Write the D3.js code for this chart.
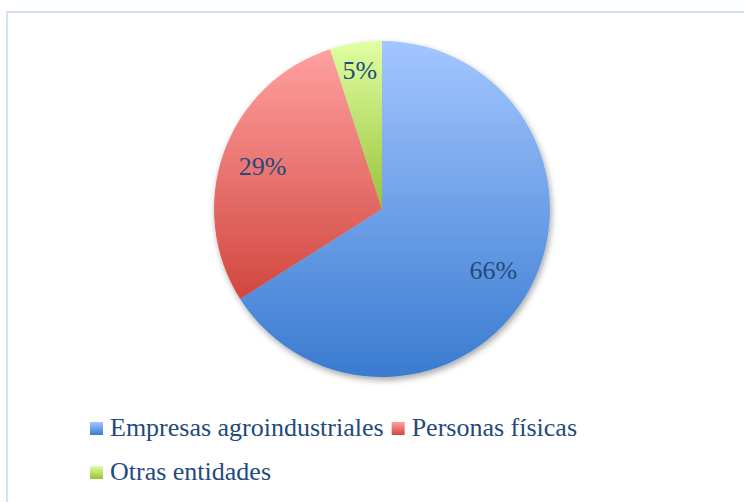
<!DOCTYPE html>
<html>
<head>
<meta charset="utf-8">
<script src="https://cdn.jsdelivr.net/npm/d3@7"></script>
<style>
  body { margin: 0; background: #fff; }
  svg { display: block; }
</style>
</head>
<body>
<div id="chart"></div>
<script>
// data
const categories = ["Empresas agroindustriales", "Personas físicas", "Otras entidades"];
const shares = [66, 29, 5];
const topColors = ["#a3c6ff", "#ffa0a0", "#e0ffa2"];
const bottomColors = ["#3a7bd0", "#d1473f", "#98c23a"];

const width = 744, height = 502;
const cx = 382, cy = 209, radius = 168;
const textColor = "#234a7c";
const fontFamily = "'Liberation Serif', serif";

const svg = d3.select("#chart").append("svg")
    .attr("width", width)
    .attr("height", height)
    .attr("font-family", fontFamily);

const defs = svg.append("defs");

// one vertical gradient per slice
categories.forEach((c, i) => {
    const g = defs.append("linearGradient")
        .attr("id", `grad-${i}`)
        .attr("x1", 0).attr("y1", 0)
        .attr("x2", 0).attr("y2", 1);
    g.append("stop").attr("offset", "0%").attr("stop-color", topColors[i]);
    g.append("stop").attr("offset", "100%").attr("stop-color", bottomColors[i]);
});

const shadow = defs.append("filter")
    .attr("id", "shadow")
    .attr("x", "-10%").attr("y", "-10%")
    .attr("width", "130%").attr("height", "130%");
shadow.append("feDropShadow")
    .attr("dx", 1.5).attr("dy", 3)
    .attr("stdDeviation", 3)
    .attr("flood-color", "#000")
    .attr("flood-opacity", 0.35);

// frame (only top and left edges fall inside the picture)
svg.append("path")
    .attr("d", `M7,${height} V12 H${width}`)
    .attr("fill", "none")
    .attr("stroke", "#d5e2f3")
    .attr("stroke-width", 2);

const pie = d3.pie().sort(null).value(d => d);
const arcs = pie(shares);
const arc = d3.arc().innerRadius(0).outerRadius(radius);

const g = svg.append("g")
    .attr("transform", `translate(${cx},${cy})`);

g.append("g")
    .attr("filter", "url(#shadow)")
    .selectAll("path")
    .data(arcs)
    .join("path")
    .attr("d", arc)
    .attr("fill", (d, i) => `url(#grad-${i})`);

// labels: small slices sit closer to the rim
const labelArc = d => {
    const r = (d.endAngle - d.startAngle) < 0.5 ? 141 : 127;
    return d3.arc().innerRadius(r).outerRadius(r).centroid(d);
};

g.selectAll("text")
    .data(arcs)
    .join("text")
    .attr("x", d => labelArc(d)[0])
    .attr("y", d => labelArc(d)[1])
    .attr("dy", "0.35em")
    .attr("text-anchor", "middle")
    .attr("font-size", 26)
    .attr("fill", textColor)
    .text(d => `${d.data}%`);

// legend, wrapped into rows
const legend = svg.append("g");
const legendLeft = 90, legendRight = 600;
const rowY = [436, 480];
const boxSize = 13;
let x = legendLeft, row = 0;
categories.forEach((c, i) => {
    const item = legend.append("g");
    const t = item.append("text")
        .attr("x", boxSize + 7)
        .attr("font-size", 26)
        .attr("fill", textColor)
        .text(c);
    const w = boxSize + 7 + t.node().getComputedTextLength();
    if (x + w > legendRight) { row++; x = legendLeft; }
    item.attr("transform", `translate(${x},${rowY[row]})`);
    item.insert("rect", "text")
        .attr("x", 0)
        .attr("y", -14)
        .attr("width", boxSize)
        .attr("height", boxSize)
        .attr("fill", `url(#grad-${i})`);
    x += w + 8;
});
</script>
</body>
</html>
